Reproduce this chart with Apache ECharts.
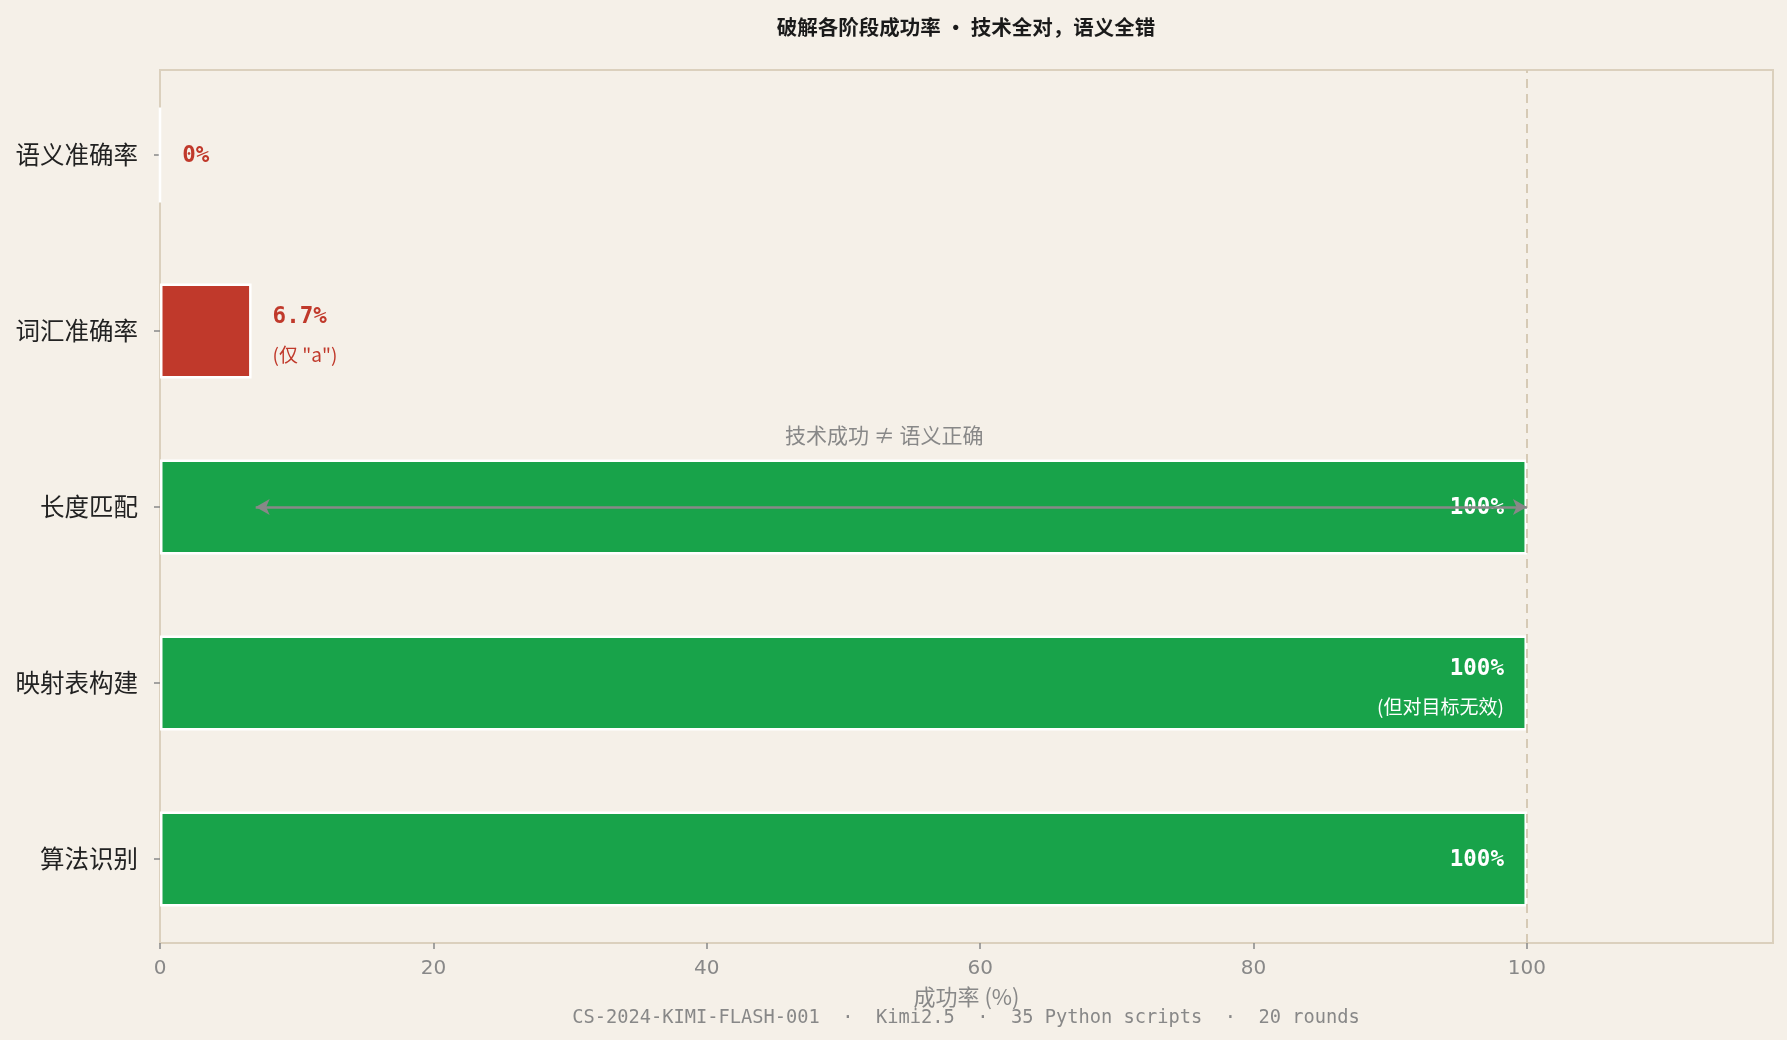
<!DOCTYPE html>
<html>
<head>
<meta charset="utf-8">
<script src="https://cdn.jsdelivr.net/npm/echarts@6/dist/echarts.min.js"></script>
<style>
html,body{margin:0;padding:0;background:#f5f0e8;}
#chart{width:1787px;height:1040px;}
</style>
</head>
<body>
<div id="chart"></div>
<script>
// ---- data ----
const titleText = '破解各阶段成功率 · 技术全对，语义全错';
const categories = ['算法识别', '映射表构建', '长度匹配', '词汇准确率', '语义准确率'];
const successRates = [100, 100, 100, 6.7, 0];
const notes = ['', '(但对目标无效)', '', '(仅 "a")', ''];
const xTicks = [0, 20, 40, 60, 80, 100];
const xMax = 118;
const referenceLine = 100;
const arrowRange = [7, 100];
const arrowCategory = '长度匹配';
const arrowText = '技术成功 ≠ 语义正确';
const xAxisName = '成功率 (%)';
const footerText = 'CS-2024-KIMI-FLASH-001  ·  Kimi2.5  ·  35 Python scripts  ·  20 rounds';

// ---- styles ----
const GREEN = '#18a34a', RED = '#c0392b', BG = '#f5f0e8', FRAME = '#dbd0bd', GREY = '#888888';
const SANS = '"DejaVu Sans", "Noto Sans CJK SC", sans-serif';
const CJK = '"Noto Sans CJK SC", "DejaVu Sans", sans-serif';
const MONO = '"DejaVu Sans Mono", monospace';

const barData = successRates.map((v, i) => {
  const low = v < 50;
  const color = low ? RED : GREEN;
  const txtColor = low ? RED : '#ffffff';
  const note = notes[i];
  return {
    value: v,
    itemStyle: { color: color },
    label: {
      show: true,
      position: low ? 'right' : 'insideRight',
      distance: low ? 21 : 23,
      offset: note ? [0, 5] : [0, 1],
      formatter: note ? ('{v|' + v + '%}\n{n|' + note + '}') : ('{v|' + v + '%}'),
      rich: {
        v: { fontFamily: MONO, fontWeight: 'bold', fontSize: 22.5, color: txtColor, lineHeight: 37 },
        n: { fontFamily: CJK, fontSize: 19, color: txtColor, lineHeight: 37 }
      }
    }
  };
});

const chart = echarts.init(document.getElementById('chart'));
chart.setOption({
  backgroundColor: BG,
  animation: false,
  title: {
    text: titleText,
    left: 961, top: 12, textAlign: 'center',
    textStyle: { fontFamily: CJK, fontSize: 20.5, fontWeight: 'bold', color: '#1a1a1a' }
  },
  grid: [
    { // frame + x axis
      left: 160, right: 14, top: 70, bottom: 97,
      show: true, borderColor: FRAME, borderWidth: 2, backgroundColor: 'transparent'
    },
    { // bars
      left: 160, right: 14, top: 67, bottom: 93
    }
  ],
  xAxis: [
    {
      gridIndex: 0, type: 'value', min: 0, max: xMax, interval: 20,
      name: xAxisName, nameLocation: 'middle', nameGap: 43,
      nameTextStyle: { fontFamily: CJK, fontSize: 22, color: GREY },
      axisLine: { show: true, lineStyle: { color: FRAME, width: 2 } },
      axisTick: { show: true, length: 6, lineStyle: { color: GREY, width: 1.5 }, customValues: xTicks },
      axisLabel: { color: GREY, fontFamily: SANS, fontSize: 20, margin: 16, customValues: xTicks },
      splitLine: { show: false }
    },
    {
      gridIndex: 1, type: 'value', min: 0, max: xMax, show: false,
      splitLine: { show: false }
    }
  ],
  yAxis: [
    {
      gridIndex: 0, type: 'value', min: 0, max: 1, show: false, splitLine: { show: false }
    },
    {
      gridIndex: 1, type: 'category', data: categories,
      axisLine: { show: false },
      axisTick: { show: true, alignWithLabel: true, length: 6, lineStyle: { color: GREY, width: 1.5 } },
      axisLabel: { color: '#222222', fontFamily: CJK, fontSize: 24.5, margin: 22 },
      splitLine: { show: false }
    }
  ],
  series: [
    {
      type: 'line', data: [], z: 1, silent: true, xAxisIndex: 0, yAxisIndex: 0,
      markLine: {
        silent: true, symbol: 'none',
        label: { show: false },
        lineStyle: { color: '#d6cab5', type: [9, 6], width: 2 },
        data: [{ xAxis: referenceLine }]
      }
    },
    {
      type: 'bar', data: barData, barWidth: '54%', z: 2, xAxisIndex: 1, yAxisIndex: 1,
      itemStyle: { borderColor: '#ffffff', borderWidth: 2.5 }
    },
    {
      type: 'line', data: [], z: 5, silent: true, xAxisIndex: 1, yAxisIndex: 1,
      markLine: {
        silent: true,
        symbol: ['arrow', 'arrow'], symbolSize: [12, 14],
        lineStyle: { color: GREY, type: 'solid', width: 2.5 },
        label: {
          show: true, position: 'middle', distance: 61, offset: [-7, 0],
          formatter: arrowText,
          fontFamily: CJK, fontSize: 21, color: GREY
        },
        data: [[
          { coord: [arrowRange[0], arrowCategory] },
          { coord: [arrowRange[1], arrowCategory] }
        ]]
      }
    }
  ],
  graphic: [{
    type: 'text', x: 966, y: 1018,
    style: { text: footerText, fontFamily: MONO, fontSize: 18.7, fill: GREY, align: 'center', verticalAlign: 'middle' }
  }]
});
</script>
</body>
</html>
